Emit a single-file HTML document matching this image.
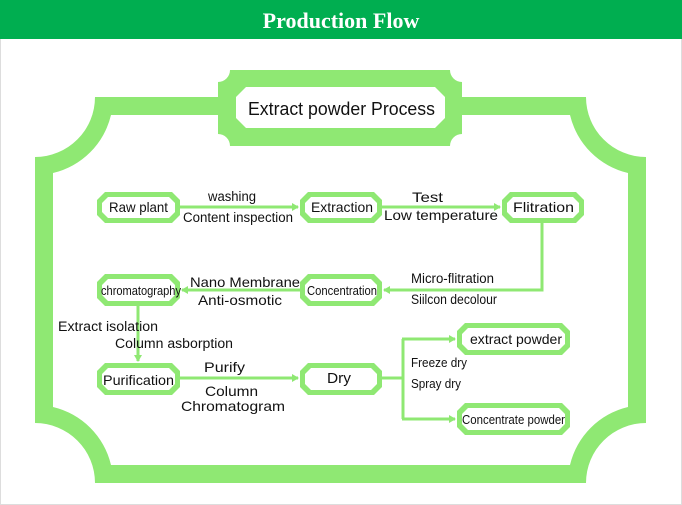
<!DOCTYPE html>
<html><head><meta charset="utf-8"><style>
html,body{margin:0;padding:0;background:#fff;}
svg{display:block;}
text{font-family:"Liberation Sans",Arial,sans-serif;fill:#111;}
</style></head><body>
<svg width="682" height="505" viewBox="0 0 682 505" xmlns="http://www.w3.org/2000/svg">
<rect x="0" y="0" width="682" height="505" fill="#fff"/>
<rect x="0.5" y="0.5" width="681" height="504" fill="none" stroke="#ddd"/>
<rect x="0" y="0" width="682" height="39" fill="#00ae50"/>
<text x="341" y="28" text-anchor="middle" style="font-family:'Liberation Serif',serif;font-weight:bold;font-size:22px;fill:#fff">Production Flow</text>

<path d="M95,97 L586,97 A60,60 0 0 0 646,157 L646,423 A60,60 0 0 0 586,483 L95,483 A60,60 0 0 0 35,423 L35,157 A60,60 0 0 0 95,97 Z" fill="#8fe873"/>
<path d="M111,115 L570,115 A78,78 0 0 0 628,173 L628,407 A78,78 0 0 0 570,465 L111,465 A78,78 0 0 0 53,407 L53,173 A78,78 0 0 0 111,115 Z" fill="#fff"/>

<path d="M230,70 L450,70 A12,12 0 0 0 462,82 L462,134 A12,12 0 0 0 450,146 L230,146 A12,12 0 0 0 218,134 L218,82 A12,12 0 0 0 230,70 Z" fill="#8fe873"/>
<polygon points="246,87 435,87 445,97 445,118 435,128 246,128 236,118 236,97" fill="#fff"/>
<text x="248" y="115" font-size="18" textLength="187" lengthAdjust="spacingAndGlyphs">Extract powder Process</text>

<defs>
<marker id="ah" markerWidth="8" markerHeight="8" refX="6" refY="4" orient="auto" markerUnits="userSpaceOnUse">
<path d="M0,0 L7,4 L0,8 Z" fill="#8fe873"/>
</marker>
</defs>

<g stroke="#8fe873" stroke-width="3" fill="none">
<line x1="180" y1="207" x2="298" y2="207" marker-end="url(#ah)"/>
<line x1="382" y1="207" x2="500" y2="207" marker-end="url(#ah)"/>
<polyline points="542,223 542,290 384,290" marker-end="url(#ah)"/>
<line x1="300" y1="290" x2="182" y2="290" marker-end="url(#ah)"/>
<line x1="138" y1="306" x2="138" y2="361" marker-end="url(#ah)"/>
<line x1="180" y1="378" x2="298" y2="378" marker-end="url(#ah)"/>
<polyline points="382,378 403,378"/>
<polyline points="403,339 403,419"/>
<line x1="402" y1="339" x2="455" y2="339" marker-end="url(#ah)"/>
<line x1="402" y1="419" x2="455" y2="419" marker-end="url(#ah)"/>
</g>

<g fill="#8fe873">
<polygon points="105,192 172,192 180,200 180,215 172,223 105,223 97,215 97,200"/>
<polygon points="308,192 374,192 382,200 382,215 374,223 308,223 300,215 300,200"/>
<polygon points="510,192 576,192 584,200 584,215 576,223 510,223 502,215 502,200"/>
<polygon points="105,274 172,274 180,282 180,298 172,306 105,306 97,298 97,282"/>
<polygon points="308,274 374,274 382,282 382,298 374,306 308,306 300,298 300,282"/>
<polygon points="105,363 172,363 180,371 180,387 172,395 105,395 97,387 97,371"/>
<polygon points="308,363 374,363 382,371 382,387 374,395 308,395 300,387 300,371"/>
<polygon points="465,323 562,323 570,331 570,347 562,355 465,355 457,347 457,331"/>
<polygon points="465,403 562,403 570,411 570,427 562,435 465,435 457,427 457,411"/>
</g>
<g fill="#fff">
<polygon points="108,197 169,197 175,203 175,212 169,218 108,218 102,212 102,203"/>
<polygon points="311,197 371,197 377,203 377,212 371,218 311,218 305,212 305,203"/>
<polygon points="513,197 573,197 579,203 579,212 573,218 513,218 507,212 507,203"/>
<polygon points="108,279 169,279 175,285 175,295 169,301 108,301 102,295 102,285"/>
<polygon points="311,279 371,279 377,285 377,295 371,301 311,301 305,295 305,285"/>
<polygon points="108,368 169,368 175,374 175,384 169,390 108,390 102,384 102,374"/>
<polygon points="311,368 371,368 377,374 377,384 371,390 311,390 305,384 305,374"/>
<polygon points="468,328 559,328 565,334 565,344 559,350 468,350 462,344 462,334"/>
<polygon points="468,408 559,408 565,414 565,424 559,430 468,430 462,424 462,414"/>
</g>

<g font-size="14">
<text x="109" y="212" textLength="59" lengthAdjust="spacingAndGlyphs">Raw plant</text>
<text x="311" y="212" textLength="62" lengthAdjust="spacingAndGlyphs">Extraction</text>
<text x="513" y="212" textLength="61" lengthAdjust="spacingAndGlyphs">Flitration</text>
<text x="101" y="295" font-size="13" textLength="80" lengthAdjust="spacingAndGlyphs">chromatography</text>
<text x="307" y="295" font-size="13" textLength="70" lengthAdjust="spacingAndGlyphs">Concentration</text>
<text x="103" y="385" textLength="71" lengthAdjust="spacingAndGlyphs">Purification</text>
<text x="327" y="383" font-size="15" textLength="24" lengthAdjust="spacingAndGlyphs">Dry</text>
<text x="470" y="344" textLength="92" lengthAdjust="spacingAndGlyphs">extract powder</text>
<text x="462" y="424" font-size="13" textLength="103" lengthAdjust="spacingAndGlyphs">Concentrate powder</text>
</g>

<g font-size="13.5">
<text x="208" y="201" textLength="48" lengthAdjust="spacingAndGlyphs">washing</text>
<text x="183" y="222" textLength="110" lengthAdjust="spacingAndGlyphs">Content inspection</text>
<text x="412" y="202" font-size="14" textLength="31" lengthAdjust="spacingAndGlyphs">Test</text>
<text x="384" y="220" font-size="14" textLength="114" lengthAdjust="spacingAndGlyphs">Low temperature</text>
<text x="190" y="287" font-size="14" textLength="110" lengthAdjust="spacingAndGlyphs">Nano Membrane</text>
<text x="198" y="305" font-size="14" textLength="84" lengthAdjust="spacingAndGlyphs">Anti-osmotic</text>
<text x="411" y="283" textLength="83" lengthAdjust="spacingAndGlyphs">Micro-flitration</text>
<text x="411" y="304" textLength="86" lengthAdjust="spacingAndGlyphs">Siilcon decolour</text>
<text x="58" y="331" textLength="100" lengthAdjust="spacingAndGlyphs">Extract isolation</text>
<text x="115" y="348" textLength="118" lengthAdjust="spacingAndGlyphs">Column asborption</text>
<text x="204" y="372" font-size="14" textLength="41" lengthAdjust="spacingAndGlyphs">Purify</text>
<text x="205" y="396" font-size="14" textLength="53" lengthAdjust="spacingAndGlyphs">Column</text>
<text x="181" y="411" font-size="14" textLength="104" lengthAdjust="spacingAndGlyphs">Chromatogram</text>
<text x="411" y="367" font-size="12.5" textLength="56" lengthAdjust="spacingAndGlyphs">Freeze dry</text>
<text x="411" y="388" font-size="12.5" textLength="50" lengthAdjust="spacingAndGlyphs">Spray dry</text>
</g>
</svg>
</body></html>
